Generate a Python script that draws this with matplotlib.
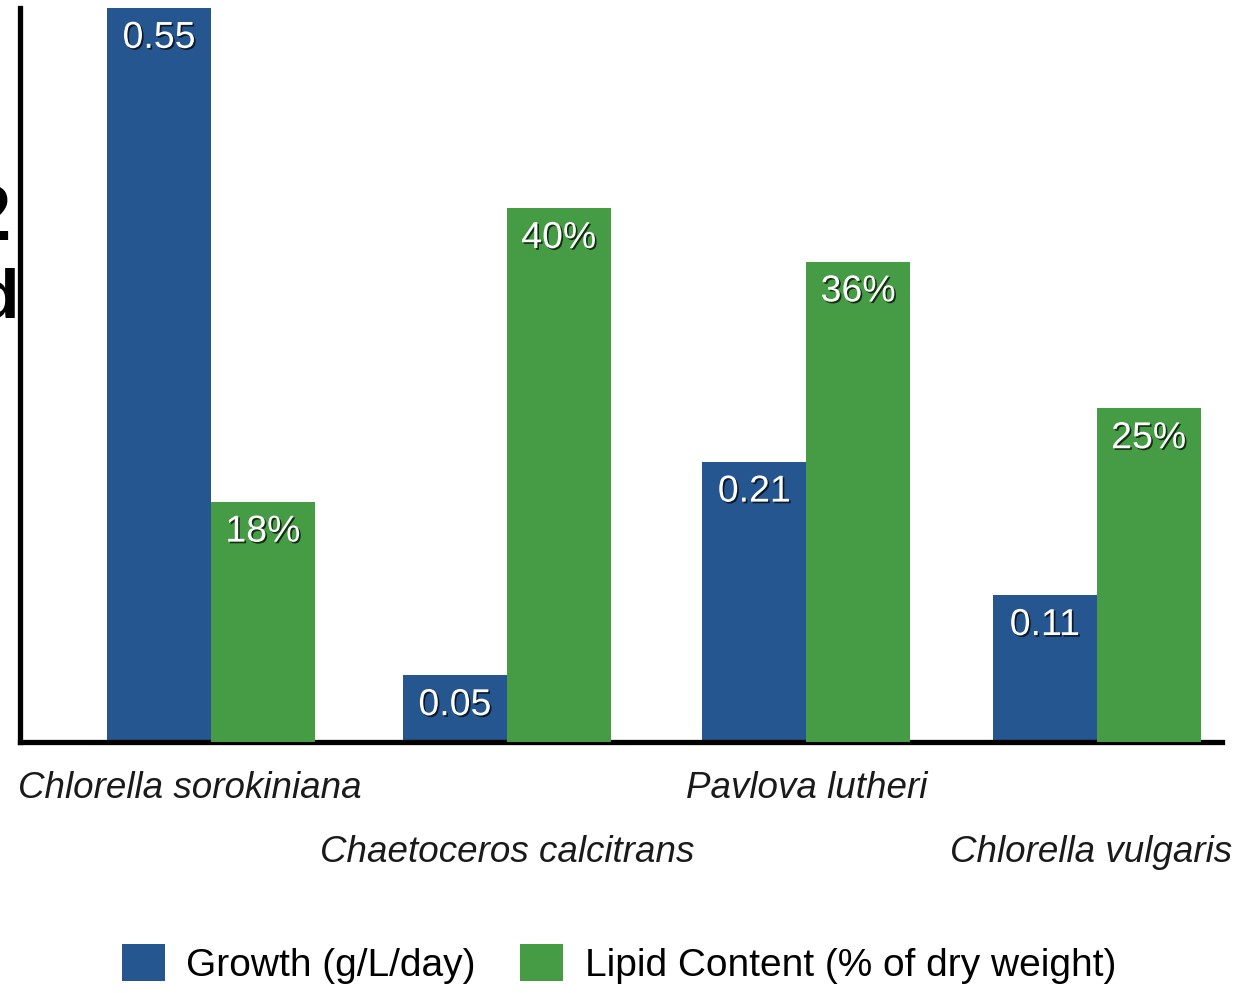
import matplotlib
matplotlib.use("Agg")
import matplotlib.pyplot as plt
import matplotlib.patheffects as pe
import numpy as np

# Data
species = ["Chlorella sorokiniana", "Chaetoceros calcitrans", "Pavlova lutheri", "Chlorella vulgaris"]
growth = [0.55, 0.05, 0.21, 0.11]          # g/L/day
lipid = [18, 40, 36, 25]                   # % of dry weight
growth_labels = ["0.55", "0.05", "0.21", "0.11"]
lipid_labels = ["18%", "40%", "36%", "25%"]
legend_labels = ["Growth (g/L/day)", "Lipid Content (% of dry weight)"]

BLUE = "#25568f"
GREEN = "#459c44"
FONT = "Liberation Sans"

W, H = 1250, 993
fig = plt.figure(figsize=(W / 100, H / 100), dpi=100)
ax = fig.add_axes([20 / W, 1 - 742 / H, 1202 / W, 734 / H])
ax2 = ax.twinx()

x = np.array([0.0, 1.002, 2.016, 3.0])
w = 0.352

b1 = ax.bar(x - w / 2, growth, width=w, color=BLUE, zorder=2)
b2 = ax2.bar(x + w / 2, lipid, width=w, color=GREEN, zorder=2)

ax.set_xlim(-0.647, 3.424)
ax.set_ylim(0, 0.55)
ax2.set_ylim(0, 55)

for a in (ax, ax2):
    for s in ("top", "right"):
        a.spines[s].set_visible(False)
    a.set_yticks([])
    a.tick_params(length=0)
ax2.spines["left"].set_visible(False)
ax2.spines["bottom"].set_visible(False)
ax.spines["left"].set_linewidth(3.8)
ax.spines["bottom"].set_linewidth(3.8)
ax.spines["left"].set_zorder(5)
ax.spines["bottom"].set_zorder(5)
ax.set_xticks([])

shadow = [pe.SimplePatchShadow(offset=(1.2, -1.2), shadow_rgbFace="black", alpha=0.7), pe.Normal()]

for rect, lab in zip(b1, growth_labels):
    ax.annotate(lab, (rect.get_x() + rect.get_width() / 2, rect.get_height()),
                xytext=(0, -21.5), textcoords="offset points", ha="center", va="center",
                color="white", fontsize=27, family=FONT, path_effects=shadow, zorder=6)
for rect, lab in zip(b2, lipid_labels):
    ax2.annotate(lab, (rect.get_x() + rect.get_width() / 2, rect.get_height()),
                 xytext=(0, -21.5), textcoords="offset points", ha="center", va="center",
                 color="white", fontsize=27, family=FONT, path_effects=shadow, zorder=6)

# Staggered category labels
trans = ax.get_xaxis_transform()
row1 = (742 - 798) / 734
row2 = (742 - 862) / 734
for i, name in enumerate(species):
    yy = row1 if i % 2 == 0 else row2
    if i == 0:
        ax.text(-0.655, yy, name, transform=trans, ha="left", va="baseline",
                fontsize=26.5, style="italic", family=FONT, color="#1a1a1a", clip_on=False)
    else:
        ax.text(x[i] - (0.02 if i == 3 else 0), yy, name, transform=trans, ha="center",
                va="baseline", fontsize=26.5, style="italic", family=FONT,
                color="#1a1a1a", clip_on=False)

# Fragments of a neighbouring label at the left edge
fig.text(11 / W, 1 - 240 / H, "2", ha="right", va="baseline", fontsize=56,
         family=FONT, weight="bold", color="black")
fig.text(19 / W, 1 - 317 / H, "d", ha="right", va="baseline", fontsize=50,
         family=FONT, weight="bold", color="black")

leg = fig.legend([b1, b2], legend_labels, loc="center", bbox_to_anchor=(619 / W, 1 - 964 / H),
                 ncol=2, frameon=False, prop={"family": FONT, "size": 28},
                 handlelength=1.1, handleheight=1.1, handletextpad=0.55, columnspacing=1.15,
                 borderpad=0)

fig.savefig("out.png", dpi=100, facecolor="white")
